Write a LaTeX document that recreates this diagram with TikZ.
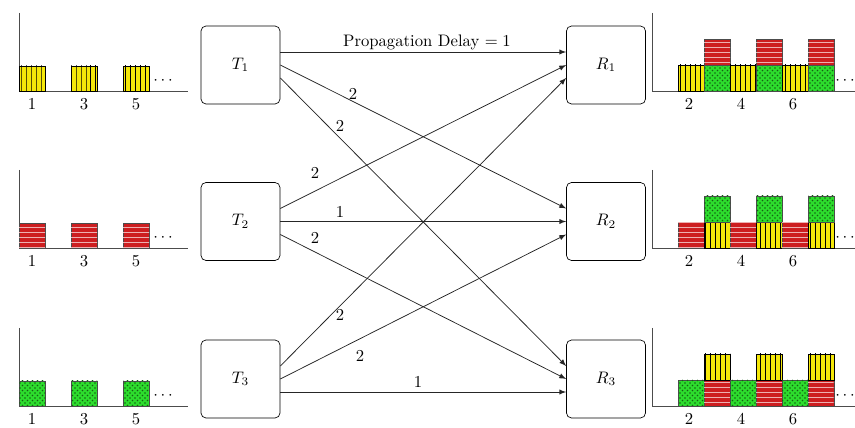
\documentclass[tikz,border=0pt]{standalone}
\usetikzlibrary{patterns}
\definecolor{slotyellow}{RGB}{245,232,10}
\definecolor{slotred}{RGB}{205,30,32}
\definecolor{slotgreen}{RGB}{45,220,45}
\tikzset{
  station/.style={draw,rounded corners=3pt,minimum width=47.4pt,minimum height=46.8pt,inner sep=0pt},
  yellowslot/.style={draw=black,fill=slotyellow,postaction={pattern=vertical lines}},
  redslot/.style={draw=black!70,fill=slotred,postaction={pattern=horizontal lines,pattern color=slotred!35!white}},
  greenslot/.style={draw=black!70,fill=slotgreen,postaction={pattern=crosshatch dots,pattern color=slotgreen!45!black}},
  axisline/.style={draw=black!70,line width=0.5pt},
  link/.style={->,draw=black!85,line width=0.45pt}
}
\begin{document}
\begin{tikzpicture}[x=0.6pt,y=-0.6pt,>=latex]
  \clip (0,0) rectangle (855,428);
  % stations
  \node[station] (T1) at (240.5,65) {$T_1$};
  \node[station] (T2) at (240.5,221.5) {$T_2$};
  \node[station] (T3) at (240.5,379) {$T_3$};
  \node[station] (R1) at (606,65) {$R_1$};
  \node[station] (R2) at (606,221.5) {$R_2$};
  \node[station] (R3) at (606,379) {$R_3$};
  % links
  \draw[link] ([yshift=7.8pt]T1.east) -- ([yshift=7.8pt]R1.west);
  \draw[link] (T1.east) -- ([yshift=7.8pt]R2.west);
  \draw[link] ([yshift=-7.8pt]T1.east) -- ([yshift=7.8pt]R3.west);
  \draw[link] ([yshift=7.8pt]T2.east) -- (R1.west);
  \draw[link] (T2.east) -- (R2.west);
  \draw[link] ([yshift=-7.8pt]T2.east) -- (R3.west);
  \draw[link] ([yshift=7.8pt]T3.east) -- ([yshift=-7.8pt]R1.west);
  \draw[link] (T3.east) -- ([yshift=-7.8pt]R2.west);
  \draw[link] ([yshift=-7.8pt]T3.east) -- ([yshift=-7.8pt]R3.west);
  % delays
  \node (d11) at (427,42) {Propagation Delay $=1$};
  \node (d12) at (353,94) {2};
  \node (d13) at (340,126) {2};
  \node (d21) at (315,173) {2};
  \node (d22) at (340,212) {1};
  \node (d23) at (315,238) {2};
  \node (d31) at (340,315) {2};
  \node (d32) at (360,356) {2};
  \node (d33) at (418,382) {1};
  % sent slots
  \foreach \b/\s/\n in {91/yellowslot/1,248/redslot/2,406/greenslot/3} {
    \draw[axisline] (19,\b-78) -- (19,\b) -- (188,\b);
    \foreach \x/\k in {19/1,71/3,123/5} {
      \draw[\s] (\x,\b) rectangle +(26,-25);
      \node[inner sep=1pt] (s\n\k) at (\x+13,\b+13) {\k};
    }
    \node (sdots\n) at (163,\b-10) {$\cdots$};
  }
  % received slots
  \foreach \b/\lo/\hi/\up/\n in {91/yellowslot/greenslot/redslot/1,248/redslot/yellowslot/greenslot/2,406/greenslot/redslot/yellowslot/3} {
    \draw[axisline] (652,\b-78) -- (652,\b) -- (855,\b);
    \foreach \x/\k in {678/2,730/4,782/6} {
      \draw[\lo] (\x,\b) rectangle +(26,-26);
      \draw[\hi] (\x+26,\b) rectangle +(26,-26);
      \draw[\up] (\x+26,\b-26) rectangle +(26,-26);
      \node[inner sep=1pt] (r\n\k) at (\x+11,\b+13) {\k};
    }
    \node[inner sep=0pt] (rdots\n) at (845,\b-10) {$\cdots$};
  }
\end{tikzpicture}
\end{document}
